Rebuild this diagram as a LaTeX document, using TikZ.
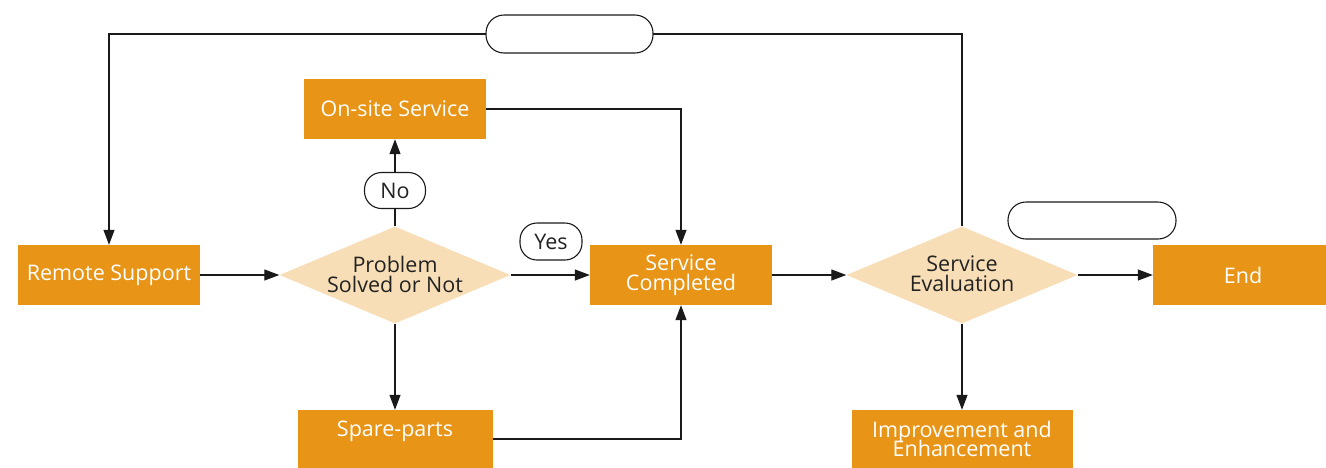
\documentclass[tikz,border=0pt]{standalone}
\usepackage{fontspec}
\setmainfont{Open Sans}
\usetikzlibrary{arrows.meta,shapes.geometric,calc}
\definecolor{boxor}{HTML}{E89416}
\definecolor{dmfill}{HTML}{F8DEB6}
\definecolor{txtdark}{HTML}{222222}
\definecolor{linec}{HTML}{1A1A1A}
\begin{document}
\begin{tikzpicture}[x=1pt,y=-1pt,
  every node/.style={font=\fontsize{21.5}{22}\selectfont},
  obox/.style={fill=boxor,text=white,inner sep=0pt,minimum height=60pt,align=center},
  dm/.style={shape=diamond,fill=dmfill,inner sep=0pt,minimum width=231pt,minimum height=97pt},
  dmtxt/.style={text=txtdark,align=center,inner sep=0pt},
  pill/.style={draw=linec,line width=1.1pt,fill=white,rounded corners=17pt,inner sep=0pt,text=txtdark},
  conn/.style={draw=linec,line width=1.2pt},
  arr/.style={conn,-{Triangle[length=15pt,width=11pt]}}]
\useasboundingbox (0,0) rectangle (1326,467);
% boxes
\node[obox,minimum width=182pt] (rs) at (109,275) {Remote Support};
\node[obox,minimum width=182pt] (os) at (395,109) {On-site Service};
\node[obox,minimum width=182pt] (sc) at (681,275) {Service\\[-2pt]Completed};
\node[obox,minimum width=195pt,minimum height=60pt] (sp) at (395,440) {};
\node[text=white,inner sep=0pt] (spt) at (395,431) {Spare-parts};
\node[obox,minimum width=221pt,minimum height=60pt] (im) at (962,440) {};
\node[text=white,inner sep=0pt,align=center] (imt) at (962,439) {Improvement and\\[-3pt]Enhancement};
\node[obox,minimum width=180pt] (en) at (1243,275) {End};
% diamonds
\node[dm] (d1) at (395,275) {};
\node[dmtxt] (d1t) at (395,274) {Problem\\[-2pt]Solved or Not};
\node[dm] (d2) at (962,275) {};
\node[dmtxt] (d2t) at (962,274) {Service\\[-2pt]Evaluation};
% coordinates
\coordinate (loop) at (0,34);
\coordinate (spr) at (486,439);
% connectors
\draw[arr] (rs.east) -- (d1.west);
\draw[arr] (d1.east) -- (sc.west);
\draw[arr] (d1.north) -- (os.south);
\draw[arr] (d1.south) -- (sp.north);
\draw[arr] (os.east) -| (sc.north);
\draw[arr] (sp.east |- spr) -| (sc.south);
\draw[arr] (sc.east) -- (d2.west);
\draw[arr] (d2.east) -- (en.west);
\draw[arr] (d2.south) -- (im.north);
\draw[arr] (d2.north) -- (d2.north |- loop) -- (rs.north |- loop) -- (rs.north);
% pills
\node[pill,minimum width=61pt,minimum height=36pt] (no) at (395,190.5) {No};
\node[pill,minimum width=62pt,minimum height=37pt] (yes) at (551,241.5) {Yes};
\node[pill,minimum width=167pt,minimum height=38pt,rounded corners=18pt] (tp) at (569.5,34) {};
\node[pill,minimum width=168pt,minimum height=37pt,rounded corners=18pt] (ep) at (1092,220.5) {};
\end{tikzpicture}
\end{document}
